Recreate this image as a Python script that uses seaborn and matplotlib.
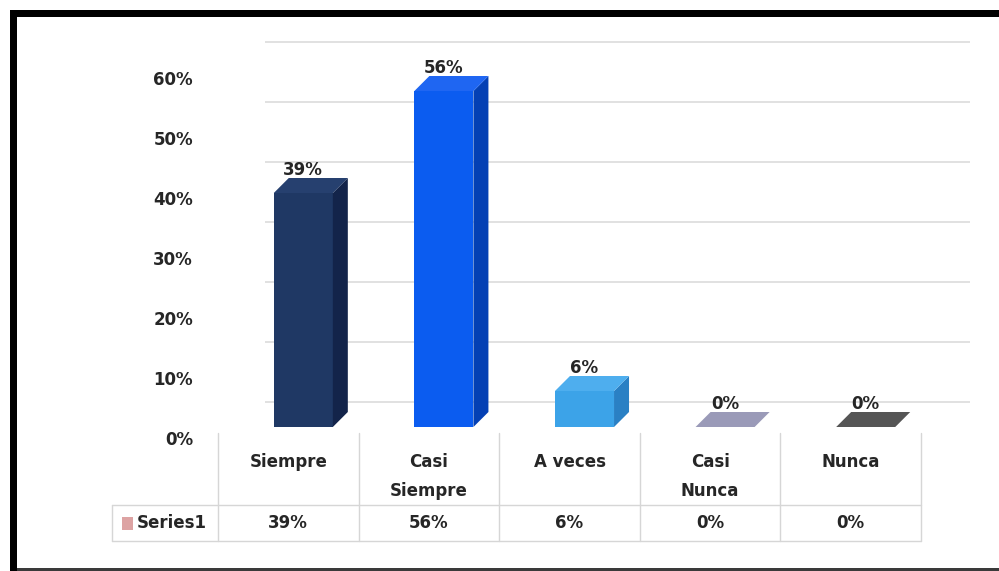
import numpy as np
import pandas as pd
import seaborn as sns
import matplotlib.pyplot as plt
from matplotlib.patches import Polygon, Rectangle
from matplotlib.lines import Line2D
from matplotlib.transforms import ScaledTranslation, blended_transform_factory, IdentityTransform

# ---- data ----
categories = ["Siempre", "Casi\nSiempre", "A veces", "Casi\nNunca", "Nunca"]
values = [0.39, 0.56, 0.06, 0.00, 0.00]
series_name = "Series1"
y_ticks = [0.0, 0.1, 0.2, 0.3, 0.4, 0.5, 0.6]

# ---- colours of the three visible faces of each column ----
front_colors = ["#1f3864", "#0b5cf0", "#3ca3e8", "#9a9ab8", "#555555"]
side_colors = ["#13244a", "#0440b4", "#2a80c4", "#8585a8", "#444444"]
top_colors = ["#26406f", "#1f66f2", "#4eaeee", "#9a9ab8", "#555555"]
key_color = "#dda3a3"
text_color = "#262626"
grid_color = "#dcdcdc"
cell_line = "#d6d6d6"

W, H, DPI = 999, 571, 100
DEPTH = 15  # px, oblique depth of the columns

sns.set_theme(style="white")
plt.rcParams["font.family"] = ["DejaVu Sans"]

fig = plt.figure(figsize=(W / DPI, H / DPI), dpi=DPI)
fig.patch.set_facecolor("white")


def fx(px):
    return px / W


def fy(py):
    return 1 - py / H


# front plane of the plot: table columns span 218..921 px, 0% at y=427, 60% at y=67
ax = fig.add_axes([fx(218), fy(427), fx(921) - fx(218), fy(67) - fy(427)])
df = pd.DataFrame({"cat": categories, "val": values})
sns.barplot(data=df, x="cat", y="val", hue="cat", palette=front_colors,
            width=0.42, saturation=1, legend=False, ax=ax, linewidth=0, zorder=3)
ax.set_xlim(-0.5, 4.5)
ax.set_ylim(0, 0.6)
ax.axis("off")

px_shift = lambda dx, dy: ScaledTranslation(dx / DPI, dy / DPI, fig.dpi_scale_trans)

# back-wall gridlines
ax.hlines(y_ticks, (265 - 218) / 703, (970 - 218) / 703,
          transform=ax.get_yaxis_transform() + px_shift(0, 25),
          colors=grid_color, linewidth=1.2, clip_on=False, zorder=0)

# y tick labels on the side wall
for t in y_ticks:
    ax.text((193 - 218) / 703, t, f"{t:.0%}",
            transform=ax.get_yaxis_transform() + px_shift(0, -13),
            ha="right", va="center", fontsize=12, fontweight="bold", color=text_color)

# columns: shift the fronts and add side / top faces
bar_shift = px_shift(15, 0)
bars = list(ax.patches)
for i, p in enumerate(bars):
    T = ax.transData + bar_shift
    p.set_transform(T)
    x0, w, h = p.get_x(), p.get_width(), p.get_height()
    X0, Y0 = T.transform((x0, 0))
    X1, Y1 = T.transform((x0 + w, h))
    if h > 0:
        side = [(X1, Y0), (X1 + DEPTH, Y0 + DEPTH), (X1 + DEPTH, Y1 + DEPTH), (X1, Y1)]
        ax.add_patch(Polygon(side, closed=True, transform=IdentityTransform(),
                             facecolor=side_colors[i], edgecolor="none", clip_on=False, zorder=3))
    top = [(X0, Y1), (X1, Y1), (X1 + DEPTH, Y1 + DEPTH), (X0 + DEPTH, Y1 + DEPTH)]
    ax.add_patch(Polygon(top, closed=True, transform=IdentityTransform(),
                         facecolor=top_colors[i], edgecolor="none", clip_on=False, zorder=3))

# value labels
for i, v in enumerate(values):
    ax.annotate(f"{v:.0%}", xy=(i, v), xytext=(15, 23), textcoords="offset pixels",
                ha="center", va="center", fontsize=12, fontweight="bold", color=text_color)

# ---- data table under the plot ----
tt = blended_transform_factory(ax.transData, fig.transFigure)
for i, cat in enumerate(categories):
    ax.text(i, fy(453), cat, transform=tt, ha="center", va="top", linespacing=1.75,
            fontsize=12, fontweight="bold", color=text_color)
    ax.text(i, fy(523), f"{values[i]:.0%}", transform=tt, ha="center", va="center",
            fontsize=12, fontweight="bold", color=text_color)

for e in np.arange(-0.5, len(categories) + 0.5):
    fig.add_artist(Line2D([e, e], [fy(433), fy(541)], transform=tt,
                          color=cell_line, linewidth=1.0))

right_px = ax.transData.transform((4.5, 0))[0]
for yy in (505, 541):
    fig.add_artist(Line2D([fx(112), right_px / W], [fy(yy), fy(yy)],
                          transform=fig.transFigure, color=cell_line, linewidth=1.0))
fig.add_artist(Line2D([fx(112), fx(112)], [fy(505), fy(541)],
                      transform=fig.transFigure, color=cell_line, linewidth=1.0))

fig.add_artist(Rectangle((fx(122), fy(530)), 11 / W, 13 / H, transform=fig.transFigure,
                         facecolor=key_color, edgecolor="none"))
fig.text(fx(137), fy(523), series_name, ha="left", va="center",
         fontsize=12, fontweight="bold", color=text_color)

# ---- outer frame ----
fig.add_artist(Rectangle((fx(10), 0), 7 / W, fy(10), transform=fig.transFigure,
                         facecolor="black", edgecolor="none"))
fig.add_artist(Rectangle((fx(10), fy(17)), 1 - fx(10), 7 / H, transform=fig.transFigure,
                         facecolor="black", edgecolor="none"))
fig.add_artist(Rectangle((fx(17), 0), 1, 3 / H, transform=fig.transFigure,
                         facecolor="#3a3a3a", edgecolor="none"))

fig.savefig("out.png", dpi=DPI, facecolor="white")
